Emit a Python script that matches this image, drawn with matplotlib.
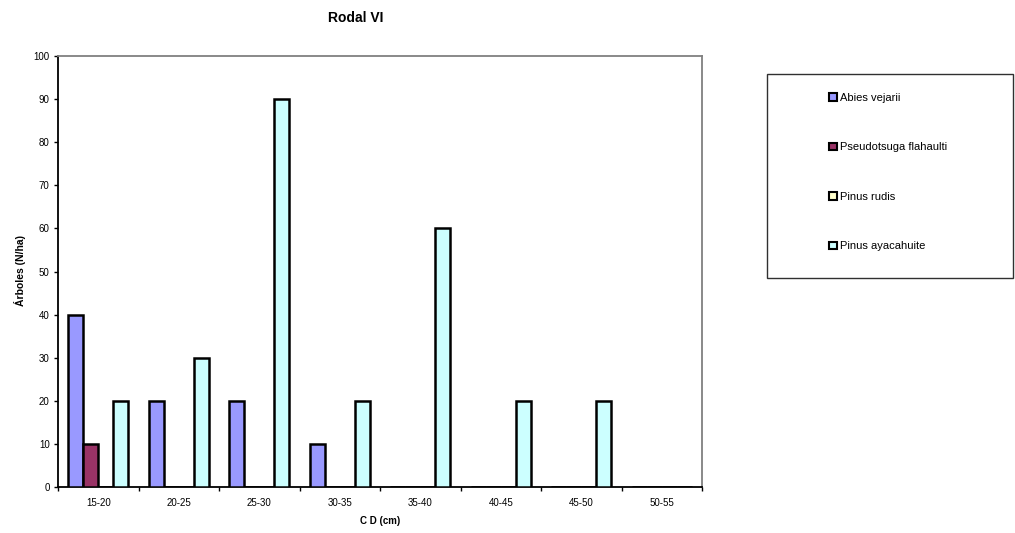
import numpy as np
import matplotlib.pyplot as plt
from matplotlib.patches import Rectangle

plt.rcParams['font.family'] = ['Liberation Sans', 'DejaVu Sans']

# clases diametricas
categorias = ['15-20', '20-25', '25-30', '30-35', '35-40', '40-45', '45-50', '50-55']
abies_vejarii = [40, 20, 20, 10, 0, 0, 0, 0]
pseudotsuga_flahaulti = [10, 0, 0, 0, 0, 0, 0, 0]
pinus_rudis = [0, 0, 0, 0, 0, 0, 0, 0]
pinus_ayacahuite = [20, 30, 90, 20, 60, 20, 20, 0]

series = [abies_vejarii, pseudotsuga_flahaulti, pinus_rudis, pinus_ayacahuite]
nombres = ['Abies vejarii', 'Pseudotsuga flahaulti', 'Pinus rudis', 'Pinus ayacahuite']
colores = ['#9999FF', '#993366', '#FFFFCC', '#CCFFFF']

W, H = 1015, 533
fig = plt.figure(figsize=(W / 100, H / 100), dpi=100)
ax = fig.add_axes([58/W, 1-487/H, 644/W, 431/H])

x = np.arange(len(categorias))
w = 0.1875
for i, (vals, nom, col) in enumerate(zip(series, nombres, colores)):
    ax.bar(x + (i - 1.5) * w, vals, w, color=col, edgecolor='black',
           linewidth=1.8, label=nom, zorder=3)

ax.set_xlim(-0.5, len(categorias) - 0.5)
ax.set_ylim(0, 100)
ax.set_yticks(range(0, 101, 10))
ax.set_xticks(x)
ax.set_xticklabels(categorias)
ax.set_xticks(np.arange(-0.5, len(categorias)), minor=True)
ax.tick_params(axis='x', which='major', length=0, labelsize=7, pad=8)
ax.tick_params(axis='x', which='minor', length=3, width=1)
ax.tick_params(axis='y', labelsize=7, length=3, width=1, pad=3)

ax.spines['left'].set_linewidth(1.3)
ax.spines['bottom'].set_linewidth(1.3)
for s in ['right', 'top']:
    ax.spines[s].set_color('#808080')
    ax.spines[s].set_linewidth(1.3)

fig.text(380/W, 1-521/H, 'C D (cm)', ha='center', va='center',
         fontsize=7, fontweight='bold')
fig.text(20/W, 1-270/H, 'Árboles (N/ha)', ha='center', va='center',
         rotation=90, fontsize=7.5, fontweight='bold')
fig.text(356/W, 1-18/H, 'Rodal VI', ha='center', va='center',
         fontsize=10, fontweight='bold')

# caja de la leyenda
fig.patches.append(Rectangle((767/W, 1-278/H), 246/W, 204/H,
                             transform=fig.transFigure, fill=False,
                             edgecolor='#303030', linewidth=1.0))
leg = fig.legend(loc='upper left', bbox_to_anchor=(829/W, 1-93/H),
                 fontsize=8, frameon=False, handlelength=0.7,
                 handleheight=0.7, handletextpad=0.25, labelspacing=3.55,
                 borderpad=0, borderaxespad=0)
for h in leg.legend_handles:
    h.set_linewidth(1.5)

fig.savefig('out.png', dpi=100)
